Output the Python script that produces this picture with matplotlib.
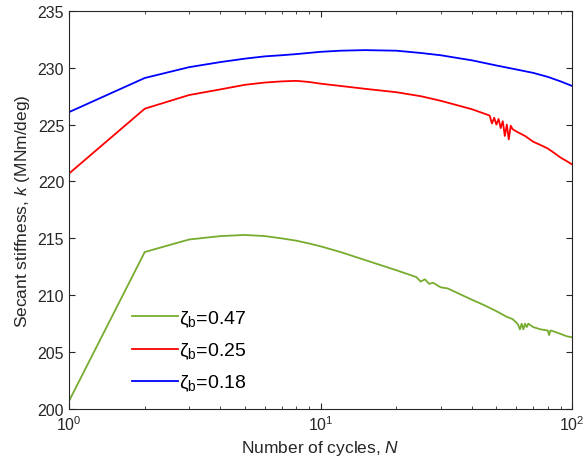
import matplotlib
matplotlib.use("Agg")
import matplotlib.pyplot as plt

plt.rcParams['font.family'] = ['Liberation Sans', 'DejaVu Sans']
plt.rcParams['mathtext.fontset'] = 'custom'
plt.rcParams['mathtext.rm'] = 'Liberation Sans'
plt.rcParams['mathtext.it'] = 'Liberation Sans:italic'

# Cycle numbers and secant stiffness values (MNm/deg)
n_green = [1, 2, 3, 4, 5, 6, 7, 8, 9, 10, 12, 15, 20, 24, 25, 26, 27, 28, 30, 32, 35, 40,
           45, 50, 55, 58, 60, 61, 62, 63, 64, 65, 66, 67, 70, 75, 80, 81, 82, 85, 90, 95, 100]
k_green = [200.7, 213.8, 214.9, 215.2, 215.3, 215.2, 215.0, 214.8, 214.55, 214.3, 213.8, 213.1,
           212.2, 211.6, 211.2, 211.4, 211.0, 211.1, 210.7, 210.6, 210.2, 209.6,
           209.1, 208.6, 208.1, 207.9, 207.6, 207.4, 207.0, 207.5, 207.0, 207.5, 207.2, 207.5,
           207.2, 207.0, 206.9, 206.5, 206.9, 206.8, 206.6, 206.4, 206.3]

n_red = [1, 2, 3, 4, 5, 6, 7, 8, 9, 10, 12, 15, 20, 25, 30, 35, 40, 45, 47, 48, 49, 50,
         51, 52, 53, 54, 55, 56, 57, 58, 60, 65, 70, 75, 80, 85, 90, 95, 100]
k_red = [220.7, 226.4, 227.6, 228.1, 228.5, 228.7, 228.8, 228.85, 228.75, 228.6, 228.4, 228.15,
         227.85, 227.5, 227.1, 226.7, 226.35, 225.95, 225.8, 225.1, 225.6, 225.0,
         225.5, 224.7, 225.3, 224.0, 225.0, 223.7, 224.9, 224.6, 224.4, 224.0, 223.5, 223.2,
         222.9, 222.5, 222.1, 221.8, 221.5]

n_blue = [1, 2, 3, 4, 5, 6, 7, 8, 10, 12, 15, 20, 25, 30, 40, 50, 60, 70, 80, 90, 100]
k_blue = [226.1, 229.1, 230.05, 230.5, 230.8, 231.0, 231.1, 231.2, 231.4, 231.5, 231.55,
          231.5, 231.3, 231.1, 230.65, 230.2, 229.85, 229.55, 229.2, 228.8, 228.4]

labels = ['ζ$_\\mathrm{b}$=0.47', 'ζ$_\\mathrm{b}$=0.25', 'ζ$_\\mathrm{b}$=0.18']
colors = ['#77AC30', '#FF0000', '#0000FF']

fig = plt.figure(figsize=(5.85, 4.64), dpi=100)
ax = fig.add_axes([0.118, 0.1164, 0.86, 0.858])

ax.plot(n_green, k_green, color=colors[0], lw=1.3, label=labels[0])
ax.plot(n_red, k_red, color=colors[1], lw=1.3, label=labels[1])
ax.plot(n_blue, k_blue, color=colors[2], lw=1.3, label=labels[2])

ax.set_xscale('log')
ax.set_xlim(1, 100)
ax.set_ylim(200, 235)
ax.set_yticks([200, 205, 210, 215, 220, 225, 230, 235])
ax.tick_params(which='both', direction='in', top=True, right=True, labelsize=11.5,
               colors='#262626')
ax.tick_params(which='major', length=4)
ax.tick_params(which='minor', length=2)
for s in ax.spines.values():
    s.set_color('#262626')
    s.set_linewidth(0.8)

ax.set_xlabel(r'Number of cycles, $\mathit{N}$', fontsize=12.5, color='#262626')
ax.set_ylabel(r'Secant stiffness, $\mathit{k}$ (MNm/deg)', fontsize=12.5, color='#262626')

leg = ax.legend(loc='lower left', bbox_to_anchor=(0.09, -0.005), frameon=False,
                fontsize=14, handlelength=2.35, handletextpad=0.1, labelspacing=0.62)

fig.savefig('out.png', dpi=100)
